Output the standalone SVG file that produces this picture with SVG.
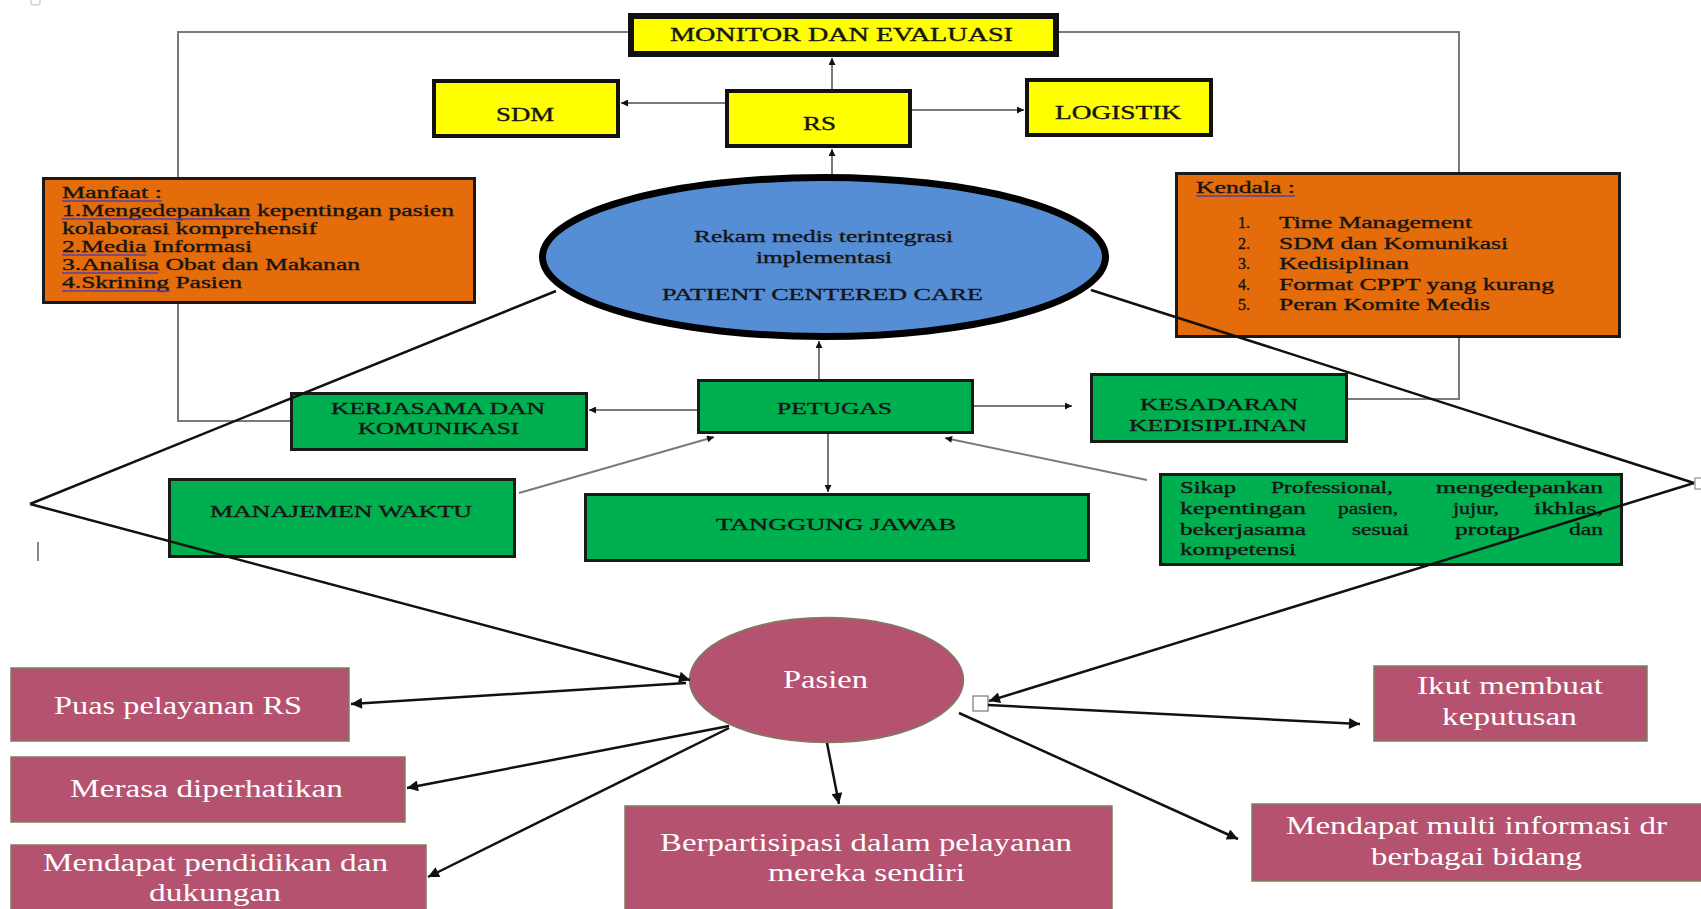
<svg xmlns="http://www.w3.org/2000/svg" width="1701" height="909" viewBox="0 0 1701 909">
<style>
.t{font-family:"Liberation Serif","Times New Roman",serif;fill:#151515;stroke:#151515;stroke-width:0.35}
.yb{fill:#FFFF00;stroke:#111}
.ob{fill:#E46C0A;stroke:#1a1a1a;stroke-width:3}
.gb{fill:#00B050;stroke:#1a1a1a;stroke-width:3}
.pb{fill:#B5526F;stroke:#7d7d5e;stroke-width:1.5}
.w{font-family:"Liberation Serif","Times New Roman",serif;fill:#fff;font-size:26px}
.g{stroke:#7a7a7a;stroke-width:2;fill:none}
.k{stroke:#111;stroke-width:2.5;fill:none}
.ul{stroke:#5a3fa8;stroke-width:1.5}
.s{font-size:16px}
</style>
<defs>
<marker id="as" viewBox="0 0 10 10" refX="10" refY="5" markerWidth="8" markerHeight="7" markerUnits="userSpaceOnUse" orient="auto"><path d="M0,0 L10,5 L0,10 z" fill="#111"/></marker>
<marker id="al" viewBox="0 0 10 10" refX="10" refY="5" markerWidth="14" markerHeight="11" markerUnits="userSpaceOnUse" orient="auto"><path d="M0,0 L10,5 L0,10 z" fill="#111"/></marker>
</defs>
<rect width="1701" height="909" fill="#fff"/>
<rect x="31" y="-3" width="9" height="8" rx="2" fill="none" stroke="#bbb" stroke-width="1"/>
<line x1="38" y1="542" x2="38" y2="561" stroke="#888" stroke-width="2"/>

<g id="monitor"><rect class="yb" x="631" y="16" width="425" height="38" stroke-width="6"/><text class="t" x="670" y="41" font-size="18" textLength="343" lengthAdjust="spacingAndGlyphs">MONITOR DAN EVALUASI</text></g>
<g id="sdm"><rect class="yb" x="434" y="81" width="184" height="55" stroke-width="4"/><text class="t" x="496" y="121" font-size="18" textLength="58" lengthAdjust="spacingAndGlyphs">SDM</text></g>
<g id="rs"><rect class="yb" x="727" y="91" width="183" height="55" stroke-width="4"/><text class="t" x="803" y="130" font-size="18" textLength="33" lengthAdjust="spacingAndGlyphs">RS</text></g>
<g id="logistik"><rect class="yb" x="1027" y="80" width="184" height="55" stroke-width="4"/><text class="t" x="1055" y="119" font-size="18" textLength="126" lengthAdjust="spacingAndGlyphs">LOGISTIK</text></g>

<g id="manfaat"><rect class="ob" x="43.5" y="178.5" width="431" height="124"/>
<text class="t" font-size="16" x="62" y="198" textLength="100" lengthAdjust="spacingAndGlyphs">Manfaat :</text>
<text class="t" font-size="16" x="62" y="216" textLength="392" lengthAdjust="spacingAndGlyphs">1.Mengedepankan kepentingan pasien</text>
<text class="t" font-size="16" x="62" y="234" textLength="255" lengthAdjust="spacingAndGlyphs">kolaborasi komprehensif</text>
<text class="t" font-size="16" x="62" y="252" textLength="190" lengthAdjust="spacingAndGlyphs">2.Media Informasi</text>
<text class="t" font-size="16" x="62" y="270" textLength="298" lengthAdjust="spacingAndGlyphs">3.Analisa Obat dan Makanan</text>
<text class="t" font-size="16" x="62" y="288" textLength="180" lengthAdjust="spacingAndGlyphs">4.Skrining Pasien</text>
<line class="ul" x1="62" y1="201" x2="162" y2="201"/><line class="ul" x1="62" y1="219" x2="250" y2="219"/><line class="ul" x1="62" y1="255" x2="146" y2="255"/><line class="ul" x1="62" y1="273" x2="158" y2="273"/><line class="ul" x1="62" y1="291" x2="170" y2="291"/>
</g>

<g id="kendala"><rect class="ob" x="1176.5" y="173.5" width="443" height="163"/>
<text class="t" font-size="16" x="1196" y="193" textLength="99" lengthAdjust="spacingAndGlyphs">Kendala :</text>
<line class="ul" x1="1196" y1="196" x2="1295" y2="196"/>
<text class="t" font-size="16"><tspan x="1238" y="228">1.</tspan><tspan x="1238" y="249">2.</tspan><tspan x="1238" y="269">3.</tspan><tspan x="1238" y="290">4.</tspan><tspan x="1238" y="310">5.</tspan></text>
<text class="t" font-size="16" x="1279" y="228" textLength="193" lengthAdjust="spacingAndGlyphs">Time Management</text>
<text class="t" font-size="16" x="1279" y="249" textLength="229" lengthAdjust="spacingAndGlyphs">SDM dan Komunikasi</text>
<text class="t" font-size="16" x="1279" y="269" textLength="130" lengthAdjust="spacingAndGlyphs">Kedisiplinan</text>
<text class="t" font-size="16" x="1279" y="290" textLength="275" lengthAdjust="spacingAndGlyphs">Format CPPT yang kurang</text>
<text class="t" font-size="16" x="1279" y="310" textLength="211" lengthAdjust="spacingAndGlyphs">Peran Komite Medis</text>
</g>

<g id="pcc"><ellipse cx="824" cy="257" rx="281.5" ry="79.5" fill="#558ED5" stroke="#000" stroke-width="7"/>
<text class="t" font-size="16" x="694" y="242" textLength="259" lengthAdjust="spacingAndGlyphs">Rekam medis terintegrasi</text>
<text class="t" font-size="16" x="756" y="263" textLength="136" lengthAdjust="spacingAndGlyphs">implementasi</text>
<text class="t" font-size="16" x="662" y="300" textLength="321" lengthAdjust="spacingAndGlyphs">PATIENT CENTERED CARE</text>
</g>

<g id="kerjasama"><rect class="gb" x="291.5" y="393.5" width="295" height="56"/><text class="t" font-size="16" x="331" y="414" textLength="214" lengthAdjust="spacingAndGlyphs">KERJASAMA DAN</text><text class="t" font-size="16" x="358" y="434" textLength="161" lengthAdjust="spacingAndGlyphs">KOMUNIKASI</text></g>
<g id="petugas"><rect class="gb" x="698.5" y="380.5" width="274" height="52"/><text class="t" font-size="16" x="777" y="414" textLength="115" lengthAdjust="spacingAndGlyphs">PETUGAS</text></g>
<g id="kesadaran"><rect class="gb" x="1091.5" y="374.5" width="255" height="67"/><text class="t" font-size="16" x="1140" y="410" textLength="158" lengthAdjust="spacingAndGlyphs">KESADARAN</text><text class="t" font-size="16" x="1129" y="431" textLength="178" lengthAdjust="spacingAndGlyphs">KEDISIPLINAN</text></g>
<g id="manajemen"><rect class="gb" x="169.5" y="479.5" width="345" height="77"/><text class="t" font-size="16" x="210" y="517" textLength="262" lengthAdjust="spacingAndGlyphs">MANAJEMEN WAKTU</text></g>
<g id="tanggung"><rect class="gb" x="585.5" y="494.5" width="503" height="66"/><text class="t" font-size="16" x="716" y="530" textLength="240" lengthAdjust="spacingAndGlyphs">TANGGUNG JAWAB</text></g>
<g id="sikap"><rect class="gb" x="1160.5" y="474.5" width="461" height="90"/>
<text class="t s" x="1180" y="493" textLength="56" lengthAdjust="spacingAndGlyphs">Sikap</text>
<text class="t s" x="1271" y="493" textLength="122" lengthAdjust="spacingAndGlyphs">Professional,</text>
<text class="t s" x="1436" y="493" textLength="167" lengthAdjust="spacingAndGlyphs">mengedepankan</text>
<text class="t s" x="1180" y="514" textLength="126" lengthAdjust="spacingAndGlyphs">kepentingan</text>
<text class="t s" x="1338" y="514" textLength="60" lengthAdjust="spacingAndGlyphs">pasien,</text>
<text class="t s" x="1453" y="514" textLength="46" lengthAdjust="spacingAndGlyphs">jujur,</text>
<text class="t s" x="1534" y="514" textLength="69" lengthAdjust="spacingAndGlyphs">ikhlas,</text>
<text class="t s" x="1180" y="535" textLength="126" lengthAdjust="spacingAndGlyphs">bekerjasama</text>
<text class="t s" x="1352" y="535" textLength="57" lengthAdjust="spacingAndGlyphs">sesuai</text>
<text class="t s" x="1455" y="535" textLength="65" lengthAdjust="spacingAndGlyphs">protap</text>
<text class="t s" x="1569" y="535" textLength="34" lengthAdjust="spacingAndGlyphs">dan</text>
<text class="t s" x="1180" y="555" textLength="116" lengthAdjust="spacingAndGlyphs">kompetensi</text>
</g>

<g id="pasien"><ellipse cx="826.5" cy="680" rx="137" ry="62.5" fill="#B5526F" stroke="#7d7d5e" stroke-width="1.5"/><text class="w" x="783" y="688" textLength="85" lengthAdjust="spacingAndGlyphs">Pasien</text></g>
<g id="puas"><rect class="pb" x="11" y="668" width="338" height="73"/><text class="w" x="54" y="714" textLength="248" lengthAdjust="spacingAndGlyphs">Puas pelayanan RS</text></g>
<g id="merasa"><rect class="pb" x="11" y="757" width="394" height="65"/><text class="w" x="70" y="797" textLength="273" lengthAdjust="spacingAndGlyphs">Merasa diperhatikan</text></g>
<g id="pendidikan"><rect class="pb" x="11" y="845" width="415" height="70"/><text class="w" x="43" y="871" textLength="345" lengthAdjust="spacingAndGlyphs">Mendapat pendidikan dan</text><text class="w" x="149" y="901" textLength="132" lengthAdjust="spacingAndGlyphs">dukungan</text></g>
<g id="berpartisipasi"><rect class="pb" x="625" y="806" width="487" height="110"/><text class="w" x="660" y="851" textLength="412" lengthAdjust="spacingAndGlyphs">Berpartisipasi dalam pelayanan</text><text class="w" x="768" y="881" textLength="197" lengthAdjust="spacingAndGlyphs">mereka sendiri</text></g>
<g id="ikut"><rect class="pb" x="1374" y="666" width="273" height="75"/><text class="w" x="1417" y="694" textLength="186" lengthAdjust="spacingAndGlyphs">Ikut membuat</text><text class="w" x="1442" y="725" textLength="135" lengthAdjust="spacingAndGlyphs">keputusan</text></g>
<g id="multi"><rect class="pb" x="1252" y="804" width="455" height="77"/><text class="w" x="1286" y="834" textLength="381" lengthAdjust="spacingAndGlyphs">Mendapat multi informasi dr</text><text class="w" x="1371" y="865" textLength="211" lengthAdjust="spacingAndGlyphs">berbagai bidang</text></g>

<g id="connectors">
<polyline class="g" points="628,32 178,32 178,177"/>
<polyline class="g" points="178,304 178,421 290,421"/>
<polyline class="g" points="1059,32 1459,32 1459,172"/>
<polyline class="g" points="1459,338 1459,399 1348,399"/>
<line class="g" x1="832" y1="89" x2="832" y2="58" marker-end="url(#as)"/>
<line class="g" x1="832" y1="174" x2="832" y2="149" marker-end="url(#as)"/>
<line class="g" x1="725" y1="103" x2="621" y2="103" marker-end="url(#as)"/>
<line class="g" x1="912" y1="110" x2="1024" y2="110" marker-end="url(#as)"/>
<line class="g" x1="819" y1="379" x2="819" y2="341" marker-end="url(#as)"/>
<line class="g" x1="697" y1="410" x2="589" y2="410" marker-end="url(#as)"/>
<line class="g" x1="974" y1="406" x2="1072" y2="406" marker-end="url(#as)"/>
<line class="g" x1="828" y1="434" x2="828" y2="492" marker-end="url(#as)"/>
<line class="g" x1="519" y1="493" x2="714" y2="437" marker-end="url(#as)"/>
<line class="g" x1="1147" y1="480" x2="945" y2="438" marker-end="url(#as)"/>
<polyline class="k" points="556,291 30,504"/>
<line class="k" x1="30" y1="504" x2="690" y2="680" marker-end="url(#al)"/>
<polyline class="k" points="1091,290 1694,483"/>
<line class="k" x1="1694" y1="483" x2="989" y2="701" marker-end="url(#al)"/>
<rect x="1695" y="478" width="7" height="11" fill="#fff" stroke="#777" stroke-width="1"/>
<rect x="973" y="696" width="15" height="15" fill="#fff" stroke="#777" stroke-width="1.2"/>
<line class="k" stroke-width="2.2" x1="686" y1="683" x2="351" y2="704" marker-end="url(#al)"/>
<line class="k" stroke-width="2.2" x1="729" y1="726" x2="407" y2="788" marker-end="url(#al)"/>
<line class="k" stroke-width="2.2" x1="729" y1="728" x2="428" y2="877" marker-end="url(#al)"/>
<line class="k" stroke-width="2.2" x1="827" y1="743" x2="839" y2="804" marker-end="url(#al)"/>
<line class="k" stroke-width="2.2" x1="988" y1="705" x2="1360" y2="724" marker-end="url(#al)"/>
<line class="k" stroke-width="2.2" x1="959" y1="713" x2="1238" y2="839" marker-end="url(#al)"/>
</g>
</svg>
